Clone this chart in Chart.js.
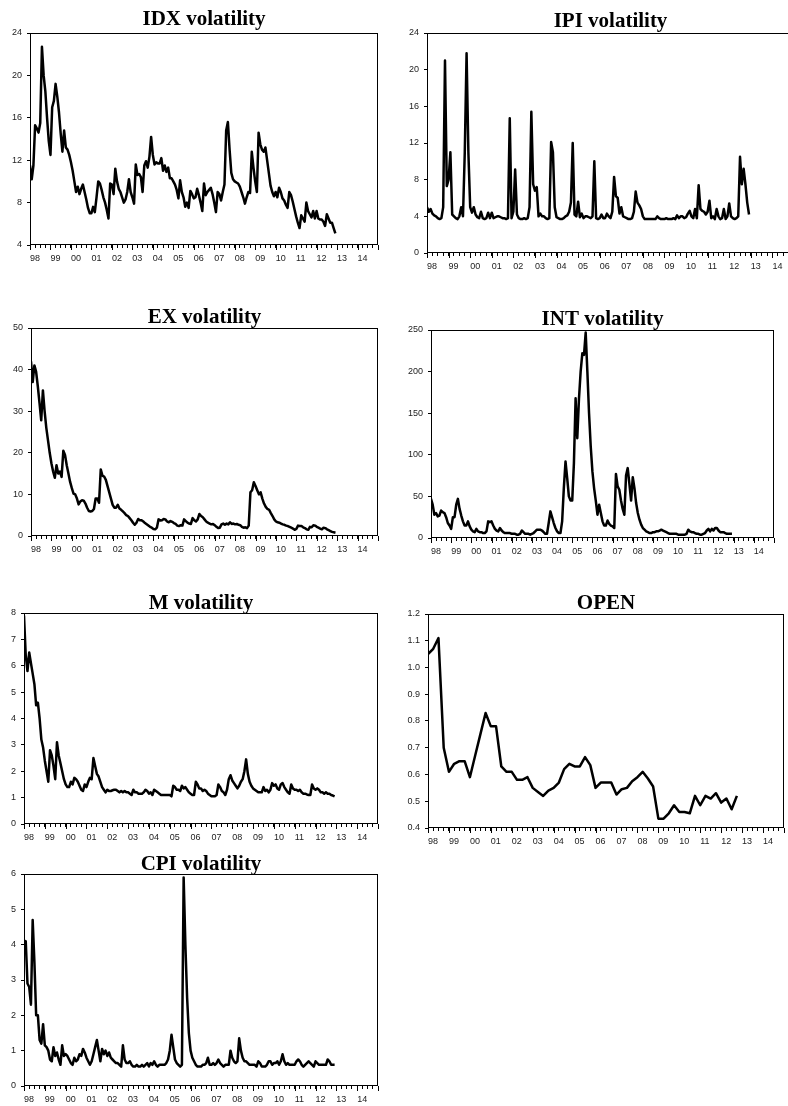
<!DOCTYPE html>
<html>
<head>
<meta charset="utf-8">
<script src="https://cdn.jsdelivr.net/npm/chart.js@4.4.0/dist/chart.umd.min.js"></script>
<style>
body { margin: 0; background: #fff; width: 788px; height: 1106px; overflow: hidden; position: relative; }
canvas { position: absolute; }
#c_idx { left: 0px; top: 3px; }
#c_ipi { left: 397px; top: 3px; }
#c_ex { left: 1px; top: 298px; }
#c_int { left: 401px; top: 300px; }
#c_m { left: -6px; top: 583px; }
#c_open { left: 398px; top: 584px; }
#c_cpi { left: -6px; top: 844px; }
</style>
</head>
<body>
<canvas id="c_idx" width="408" height="267"></canvas>
<canvas id="c_ipi" width="427" height="275"></canvas>
<canvas id="c_ex" width="407" height="263"></canvas>
<canvas id="c_int" width="403" height="263"></canvas>
<canvas id="c_m" width="414" height="266"></canvas>
<canvas id="c_open" width="416" height="269"></canvas>
<canvas id="c_cpi" width="414" height="267"></canvas>
<script>
// x axis: 1998 .. 2014, monthly data 1998M01-2012M12, OPEN quarterly 1998Q1-2012Q4
const startYear = 1998;
const yearLabels = ['98', '99', '00', '01', '02', '03', '04', '05', '06', '07', '08', '09', '10', '11', '12', '13', '14'];

const idxVol = [
    11.5, 10.2, 11.5, 15.3, 15.0, 14.6, 15.5, 22.7, 20.0, 18.5, 16.0, 13.8,
    12.5, 17.0, 17.6, 19.2, 18.0, 16.5, 14.5, 12.8, 14.8, 13.2, 13.0, 12.5,
    11.8, 11.0, 10.0, 9.0, 9.5, 8.8, 9.3, 9.7, 9.0, 8.3, 7.5, 7.0,
    7.0, 7.6, 7.1, 8.5, 10.0, 9.8, 9.2, 8.5, 8.0, 7.3, 6.5, 9.8,
    9.7, 8.8, 11.2, 10.0, 9.3, 9.0, 8.5, 8.0, 8.3, 9.0, 10.2, 9.0,
    8.5, 7.9, 11.6, 10.6, 10.7, 10.4, 9.0, 11.5, 11.9, 11.3, 12.3, 14.2,
    12.5, 11.6, 11.8, 11.7, 11.7, 12.2, 11.0, 11.5, 10.9, 11.3, 10.3, 10.3,
    10.0, 9.7, 9.2, 8.4, 10.1, 9.0, 8.5, 7.6, 8.0, 7.5, 9.1, 8.8,
    8.4, 8.5, 9.3, 8.7, 8.0, 7.2, 9.8, 8.7, 9.0, 9.2, 9.4, 8.8,
    8.0, 7.1, 9.0, 8.8, 8.2, 9.0, 9.7, 14.8, 15.6, 13.0, 10.8, 10.2,
    10.0, 9.9, 9.8, 9.5, 9.0, 8.5, 7.9, 8.5, 9.0, 8.9, 12.8, 11.3,
    10.0, 9.0, 14.6, 13.5, 13.0, 12.8, 13.2, 12.0, 10.8, 9.6, 9.0, 8.6,
    9.0, 8.5, 9.4, 9.0, 8.4, 8.2, 7.8, 7.5, 9.0, 8.7, 8.1, 7.4,
    6.7, 6.1, 5.6, 6.8, 6.5, 6.2, 8.0, 7.2, 6.9, 6.6, 7.2, 6.5,
    7.2, 6.5, 6.4, 6.4, 6.2, 5.8, 6.9, 6.5, 6.1, 6.1, 5.6, 5.1
];

const ipiVol = [
    5.0, 4.5, 4.8, 4.3, 4.1, 4.0, 3.8, 3.7, 3.8, 5.0, 21.0, 7.3,
    8.0, 11.0, 4.2, 4.0, 3.8, 3.7, 4.0, 5.0, 4.0, 11.0, 21.8, 11.0,
    5.0, 4.4, 5.0, 4.2, 3.9, 3.8, 4.5, 3.8, 3.7, 3.8, 4.4, 3.8,
    4.4, 3.8, 3.9, 4.0, 4.0, 3.9, 3.8, 3.8, 3.7, 3.8, 14.7, 3.8,
    4.5, 9.1, 4.2, 3.8, 3.7, 3.7, 3.8, 3.7, 3.8, 5.0, 15.4, 7.5,
    6.8, 7.2, 4.0, 4.3, 4.0, 4.0, 3.8, 3.7, 3.8, 12.1, 11.0, 5.0,
    3.9, 3.8, 3.7, 3.7, 3.8, 4.0, 4.1, 4.5, 5.5, 12.0, 4.2, 4.0,
    5.6, 3.9, 4.3, 3.8, 4.0, 4.0, 3.9, 3.8, 4.0, 10.0, 3.8, 3.7,
    3.8, 4.2, 3.8, 3.8, 4.3, 4.0, 3.8, 4.5, 8.3, 6.2, 6.0, 4.3,
    5.0, 4.0, 3.9, 3.8, 3.7, 3.7, 3.8, 4.5, 6.7, 5.5, 5.2, 4.8,
    4.0, 3.7, 3.7, 3.7, 3.7, 3.7, 3.7, 3.7, 4.0, 3.8, 3.7, 3.7,
    3.7, 3.8, 3.7, 3.7, 3.7, 3.8, 3.7, 4.1, 3.8, 4.0, 4.0, 3.8,
    3.9, 4.3, 4.6, 4.0, 3.8, 4.8, 3.8, 7.4, 4.8, 4.6, 4.5, 4.2,
    4.5, 5.7, 3.8, 4.0, 3.7, 4.8, 4.0, 3.7, 3.8, 4.8, 3.7, 4.0,
    5.4, 4.0, 3.8, 3.7, 3.8, 4.0, 10.5, 7.5, 9.2, 7.5, 5.5, 4.2
];

const exVol = [
    42, 37, 41, 39.5, 36, 32, 27.8, 35, 30, 26, 23, 20,
    17.5, 15.5, 14, 17, 15, 15.5, 14.2, 20.5, 19.5, 17, 15, 13,
    11.5, 10.2, 10.0, 9.0, 7.6, 8.3, 8.6, 8.5, 7.8, 6.8, 6.0, 5.9,
    6.0, 6.5, 9.0, 9.0, 8.0, 16.0, 14.5, 14.3, 13.5, 12.0, 10.5, 9.0,
    7.5, 6.8, 6.8, 7.5, 6.6, 6.3, 5.9, 5.5, 5.0, 4.8, 4.3, 3.8,
    3.2, 2.7, 3.2, 4.1, 3.8, 3.8, 3.5, 3.1, 2.8, 2.5, 2.2, 2.0,
    1.7, 1.6, 2.0, 4.0, 3.7, 3.8, 4.1, 4.0, 3.5, 3.3, 3.6, 3.4,
    3.1, 2.9, 2.5, 2.4, 2.6, 2.5, 4.0, 3.6, 3.2, 3.0, 2.9, 4.3,
    3.8, 3.5, 4.0, 5.3, 4.8, 4.5, 4.0, 3.5, 3.2, 3.0, 2.8, 2.9,
    2.6, 2.2, 1.9, 2.0, 2.8, 3.0, 2.7, 3.0, 2.8, 3.3, 2.9, 3.0,
    2.8, 2.9, 2.7, 2.6, 2.2, 2.0, 2.1, 1.9, 2.5, 10.5, 11.0, 12.9,
    12.0, 11.0, 10.0, 10.5, 9.0, 7.8, 7.0, 6.5, 6.3, 5.5, 4.8, 4.0,
    3.5, 3.3, 3.2, 3.0, 2.8, 2.7, 2.5, 2.4, 2.2, 2.0, 1.8, 1.5,
    1.7, 2.5, 2.4, 2.4, 2.1, 1.9, 1.6, 1.5, 2.2, 2.1, 2.6, 2.5,
    2.2, 2.0, 1.8, 1.6, 2.0, 1.9, 1.6, 1.4, 1.2, 1.0, 0.9, 0.8
];

const intVol = [
    47, 40, 28, 30, 26, 27, 33, 31, 30, 25, 18, 15,
    11, 25, 25, 40, 47, 35, 27, 20, 15, 15, 20, 14,
    10, 8, 7, 11, 8, 7, 7, 6, 6, 8, 20, 19,
    20, 15, 11, 9, 8, 12, 9, 7, 6, 6, 6, 6,
    5, 5, 5, 4, 4, 5, 9, 7, 5, 5, 5, 4,
    5, 6, 8, 10, 10, 10, 9, 7, 5, 5, 18, 32,
    25, 18, 12, 8, 6, 6, 20, 60, 92, 72, 50, 45,
    45, 90, 168, 120, 167, 200, 222, 220, 247, 200, 150, 110,
    80, 60, 45, 28, 40, 30, 20, 15, 15, 21, 17, 15,
    14, 12, 77, 62, 58, 45, 35, 28, 75, 84, 65, 45,
    73, 60, 42, 30, 22, 16, 12, 10, 8, 7, 6, 6,
    7, 7, 8, 8, 9, 10, 9, 8, 7, 6, 5, 5,
    5, 5, 5, 4, 4, 4, 4, 4, 5, 10, 8, 7,
    7, 6, 5, 5, 4, 4, 5, 6, 9, 11, 8, 11,
    9, 12, 12, 9, 7, 7, 7, 6, 5, 5, 5, 5
];

const mVol = [
    7.9, 6.4, 5.8, 6.5, 6.1, 5.7, 5.3, 4.5, 4.6, 4.0, 3.2, 2.9,
    2.4, 2.0, 1.6, 2.8, 2.6, 2.2, 1.7, 3.1, 2.6, 2.3, 2.0, 1.7,
    1.5, 1.4, 1.4, 1.6, 1.5, 1.75, 1.7, 1.6, 1.45, 1.3, 1.25, 1.5,
    1.4, 1.6, 1.75, 1.7, 2.5, 2.2, 1.9, 1.8, 1.6, 1.4, 1.3, 1.2,
    1.3, 1.25, 1.25, 1.28, 1.3, 1.3, 1.25, 1.2, 1.25, 1.2, 1.25, 1.2,
    1.2, 1.15, 1.1, 1.3, 1.2, 1.2, 1.15, 1.15, 1.15, 1.2, 1.3, 1.25,
    1.15, 1.2, 1.1, 1.3, 1.25, 1.2, 1.15, 1.1, 1.1, 1.1, 1.1, 1.1,
    1.1, 1.05, 1.45, 1.4, 1.3, 1.3, 1.25, 1.45, 1.35, 1.4, 1.3, 1.2,
    1.15, 1.1, 1.1, 1.6, 1.5, 1.35, 1.35, 1.25, 1.3, 1.25, 1.15, 1.1,
    1.05, 1.05, 1.05, 1.1, 1.5, 1.4, 1.25, 1.2, 1.1, 1.3, 1.7, 1.85,
    1.65, 1.55, 1.45, 1.35, 1.45, 1.6, 1.7, 2.0, 2.45, 1.9, 1.6, 1.45,
    1.35, 1.3, 1.25, 1.2, 1.2, 1.2, 1.4, 1.25, 1.3, 1.2, 1.3, 1.55,
    1.45, 1.5, 1.35, 1.3, 1.5, 1.55, 1.4, 1.3, 1.2, 1.15, 1.5, 1.35,
    1.3, 1.3, 1.25, 1.3, 1.2, 1.15, 1.15, 1.12, 1.1, 1.1, 1.5, 1.35,
    1.3, 1.35, 1.3, 1.2, 1.2, 1.15, 1.2, 1.15, 1.15, 1.1, 1.08, 1.05
];

const openRatio = [
    1.05, 1.07, 1.11, 0.70, 0.61, 0.64, 0.65, 0.65, 0.59, 0.67, 0.75, 0.83,
    0.78, 0.78, 0.63, 0.61, 0.61, 0.58, 0.58, 0.59, 0.55, 0.535, 0.52, 0.54,
    0.55, 0.57, 0.62, 0.64, 0.63, 0.63, 0.665, 0.635, 0.55, 0.57, 0.57, 0.57,
    0.525, 0.545, 0.55, 0.575, 0.59, 0.61, 0.585, 0.555, 0.435, 0.435, 0.455, 0.485,
    0.46, 0.46, 0.455, 0.52, 0.485, 0.52, 0.51, 0.53, 0.495, 0.51, 0.47, 0.52
];

const cpiVol = [
    3.9, 4.1, 2.9, 2.8, 2.3, 4.7, 3.5, 2.0, 2.0, 1.3, 1.2, 1.75,
    1.15, 1.1, 1.0, 0.75, 0.7, 1.1, 0.85, 0.95, 0.75, 0.6, 1.15, 0.85,
    0.9, 0.85, 0.75, 0.65, 0.6, 0.8, 0.7, 0.75, 0.9, 0.85, 1.05, 0.95,
    0.8, 0.7, 0.6, 0.7, 0.9, 1.1, 1.3, 1.0, 0.7, 1.05, 0.9, 1.0,
    0.85, 0.95, 0.8, 0.75, 0.7, 0.65, 0.65, 0.6, 0.55, 1.15, 0.75, 0.65,
    0.65, 0.7, 0.6, 0.55, 0.55, 0.6, 0.55, 0.55, 0.6, 0.55, 0.6, 0.65,
    0.55, 0.65, 0.6, 0.7, 0.6, 0.55, 0.6, 0.6, 0.6, 0.6, 0.65, 0.75,
    1.0, 1.45, 1.1, 0.75, 0.65, 0.6, 0.55, 0.6, 5.9, 4.0, 2.5, 1.5,
    1.0, 0.8, 0.7, 0.6, 0.55, 0.55, 0.55, 0.6, 0.6, 0.65, 0.8, 0.6,
    0.6, 0.65, 0.6, 0.65, 0.75, 0.65, 0.6, 0.55, 0.6, 0.6, 0.6, 1.0,
    0.8, 0.7, 0.65, 0.7, 1.35, 1.0, 0.8, 0.7, 0.7, 0.65, 0.6, 0.6,
    0.6, 0.6, 0.55, 0.7, 0.65, 0.55, 0.55, 0.55, 0.6, 0.7, 0.7, 0.6,
    0.65, 0.65, 0.7, 0.6, 0.7, 0.9, 0.7, 0.6, 0.65, 0.6, 0.6, 0.6,
    0.6, 0.7, 0.75, 0.7, 0.6, 0.55, 0.6, 0.65, 0.7, 0.65, 0.6, 0.55,
    0.7, 0.65, 0.6, 0.6, 0.6, 0.6, 0.6, 0.75, 0.7, 0.6, 0.6, 0.6
];

function monthly(vals) {
    return vals.map((v, i) => ({ x: startYear + i / 12, y: v }));
}
function quarterly(vals) {
    return vals.map((v, i) => ({ x: startYear + i / 4, y: v }));
}

Chart.defaults.font.family = "'Liberation Sans', Arial, sans-serif";
Chart.defaults.font.size = 9;
Chart.defaults.color = '#222';

// box round the plot + longer ticks at year starts
const framePlugin = {
    id: 'frame',
    afterDraw(chart) {
        const a = chart.chartArea;
        const ctx = chart.ctx;
        const xs = chart.scales.x;
        ctx.save();
        ctx.strokeStyle = '#000';
        ctx.lineWidth = 1;
        ctx.strokeRect(Math.round(a.left) + 0.5, Math.round(a.top) + 0.5,
            Math.round(a.right - a.left) - 1, Math.round(a.bottom - a.top) - 1);
        ctx.beginPath();
        for (let yr = startYear; yr <= startYear + yearLabels.length; yr++) {
            const px = Math.round(xs.getPixelForValue(yr)) + 0.5;
            ctx.moveTo(px, a.bottom);
            ctx.lineTo(px, a.bottom + 5);
        }
        ctx.stroke();
        ctx.restore();
    }
};

// padTop moves the title down toward the plot; title block stays 30px high
function makeChart(id, title, points, ymin, ymax, ystep, padTop, fmt) {
    const ctx = document.getElementById(id).getContext('2d');
    return new Chart(ctx, {
        type: 'line',
        data: {
            datasets: [{
                data: points,
                borderColor: '#000',
                borderWidth: 2.5,
                borderJoinStyle: 'round',
                pointRadius: 0,
                fill: false,
                tension: 0
            }]
        },
        options: {
            responsive: false,
            animation: false,
            layout: { padding: { left: 0, right: 30, top: 0, bottom: 0 } },
            plugins: {
                legend: { display: false },
                tooltip: { enabled: false },
                title: {
                    display: true,
                    text: title,
                    fullSize: false,
                    color: '#000',
                    font: { family: "'Liberation Serif', 'Times New Roman', serif", weight: 'bold', size: 21, lineHeight: 0.8 },
                    padding: { top: padTop, bottom: 13.2 - padTop }
                }
            },
            scales: {
                x: {
                    type: 'linear',
                    min: startYear,
                    max: startYear + yearLabels.length,
                    afterFit(scale) { scale.height = 25; },
                    border: { display: false },
                    grid: { drawOnChartArea: false, drawTicks: true, tickLength: 3, tickColor: '#000' },
                    ticks: {
                        stepSize: 0.25,
                        autoSkip: false,
                        maxRotation: 0,
                        minRotation: 0,
                        align: 'start',
                        padding: 5,
                        callback: function (v) {
                            const r = Math.round(v);
                            if (Math.abs(v - r) < 1e-6) {
                                return yearLabels[r - startYear] || '';
                            }
                            return '';
                        }
                    }
                },
                y: {
                    min: ymin,
                    max: ymax,
                    afterFit(scale) { scale.width = 30; },
                    border: { display: false },
                    grid: { drawOnChartArea: false, drawTicks: true, tickLength: 3, tickColor: '#000' },
                    ticks: {
                        stepSize: ystep,
                        padding: 5,
                        callback: fmt || function (v) { return v; }
                    }
                }
            }
        },
        plugins: [framePlugin]
    });
}

makeChart('c_idx', 'IDX volatility', monthly(idxVol), 4, 24, 4, 8.1);
makeChart('c_ipi', 'IPI volatility', monthly(ipiVol), 0, 24, 4, 10.1);
makeChart('c_ex', 'EX volatility', monthly(exVol), 0, 50, 10, 11.1);
makeChart('c_int', 'INT volatility', monthly(intVol), 0, 250, 50, 11.1);
makeChart('c_m', 'M volatility', monthly(mVol), 0, 8, 1, 12.1);
makeChart('c_open', 'OPEN', quarterly(openRatio), 0.4, 1.2, 0.1, 11.1, function (v) { return v.toFixed(1); });
makeChart('c_cpi', 'CPI volatility', monthly(cpiVol), 0, 6, 1, 12.1);
</script>
</body>
</html>
